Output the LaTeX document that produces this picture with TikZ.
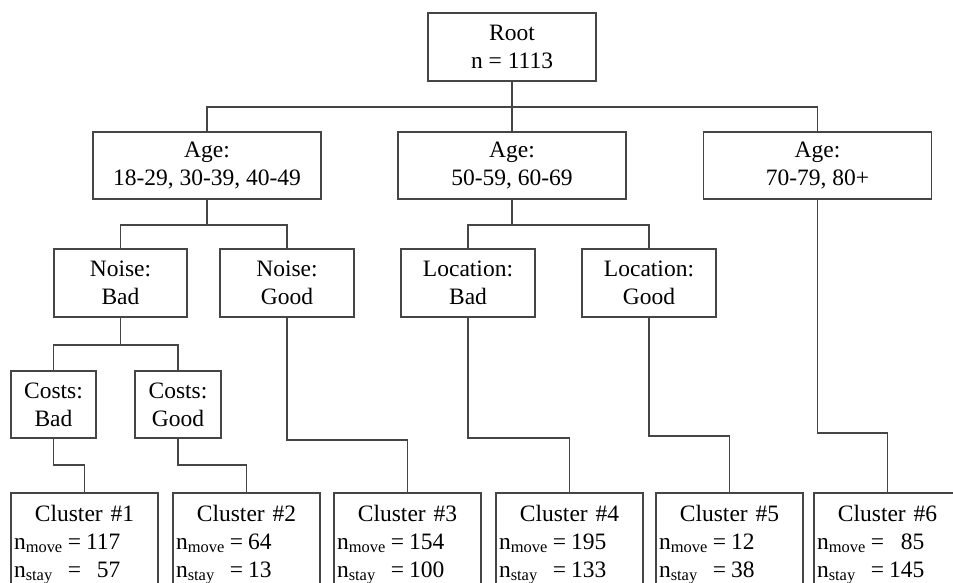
\documentclass[tikz,border=0pt]{standalone}
\usepackage{fontspec}
\setmainfont{Liberation Serif}
\definecolor{edgegray}{gray}{0.27}
\tikzset{
    splitnode/.style={draw=edgegray, line width=1.6pt, align=center, inner sep=0pt,
        font=\fontsize{23.5}{28}\selectfont},
    leafnode/.style={draw=edgegray, line width=1.6pt, anchor=north, align=center,
        text width=141pt, inner xsep=3pt, inner ysep=12pt, font=\fontsize{23.5}{28}\selectfont},
    edge/.style={draw=edgegray, line width=1.6pt},
}
\newcommand{\counts}[2]{\makebox[141pt][l]{\begin{tabular}[t]{@{}l@{\hspace{5pt}}c@{\hspace{5pt}}r@{}}n\textsubscript{move} & = & #1\\ n\textsubscript{stay} & = & #2\end{tabular}}}
\begin{document}
\begin{tikzpicture}[x=1pt, y=-1pt]
            \useasboundingbox (0,0) rectangle (953,583);
            \clip (0,0) rectangle (953,583);
            % splits
            \node[splitnode, minimum width=168pt, minimum height=68pt] (root) at (512,47) {Root\\n = 1113};
            \node[splitnode, minimum width=228pt, minimum height=67pt] (age1) at (207,165.5) {Age:\\18-29, 30-39, 40-49};
            \node[splitnode, minimum width=228pt, minimum height=67pt] (age2) at (512,165.5) {Age:\\50-59, 60-69};
            \node[splitnode, minimum width=228pt, minimum height=67pt] (age3) at (817.5,165.5) {Age:\\70-79, 80+};
            \node[splitnode, minimum width=133pt, minimum height=68pt] (noisebad) at (120.5,283) {Noise:\\Bad};
            \node[splitnode, minimum width=134pt, minimum height=68pt] (noisegood) at (287,283) {Noise:\\Good};
            \node[splitnode, minimum width=134pt, minimum height=68pt] (locbad) at (468,283) {Location:\\Bad};
            \node[splitnode, minimum width=134pt, minimum height=68pt] (locgood) at (649,283) {Location:\\Good};
            \node[splitnode, minimum width=85pt, minimum height=67pt] (costbad) at (53.5,404.5) {Costs:\\Bad};
            \node[splitnode, minimum width=86pt, minimum height=67pt] (costgood) at (178,404.5) {Costs:\\Good};
            % clusters
            \node[leafnode] (c1) at (84.5,492) {Cluster \#1\\\counts{117}{57}};
            \node[leafnode] (c2) at (246.5,492) {Cluster \#2\\\counts{64}{13}};
            \node[leafnode] (c3) at (407.5,492) {Cluster \#3\\\counts{154}{100}};
            \node[leafnode] (c4) at (569.5,492) {Cluster \#4\\\counts{195}{133}};
            \node[leafnode] (c5) at (729.5,492) {Cluster \#5\\\counts{12}{38}};
            \node[leafnode] (c6) at (887.5,492) {Cluster \#6\\\counts{85}{145}};
            % branches
            \draw[edge] (root.south) -- ++(0,25) -| (age1.north);
            \draw[edge] (root.south) -- ++(0,25) -| (age3.north);
            \draw[edge] (root.south) -- (age2.north);
            \draw[edge] (age1.south) -- ++(0,25) -| (noisebad.north);
            \draw[edge] (age1.south) -- ++(0,25) -| (noisegood.north);
            \draw[edge] (age2.south) -- ++(0,25) -| (locbad.north);
            \draw[edge] (age2.south) -- ++(0,25) -| (locgood.north);
            \draw[edge] (noisebad.south) -- ++(0,27) -| (costbad.north);
            \draw[edge] (noisebad.south) -- ++(0,27) -| (costgood.north);
            \draw[edge] (costbad.south) -- ++(0,26) -| (c1.north);
            \draw[edge] (costgood.south) -- ++(0,26) -| (c2.north);
            \draw[edge] (noisegood.south) -- ++(0,122) -| (c3.north);
            \draw[edge] (locbad.south) -- ++(0,120) -| (c4.north);
            \draw[edge] (locgood.south) -- ++(0,118) -| (c5.north);
            \draw[edge] (age3.south) -- ++(0,233) -| (c6.north);
        \end{tikzpicture}
\end{document}
